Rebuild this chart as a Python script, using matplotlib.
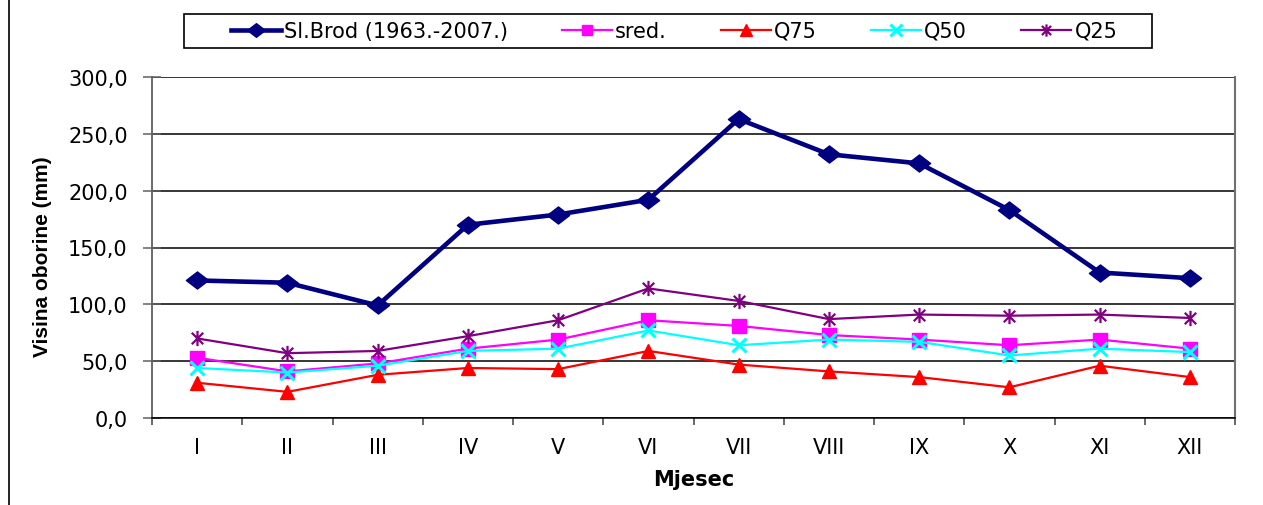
import numpy as np
import matplotlib
matplotlib.use("Agg")
import matplotlib.pyplot as plt
from matplotlib.path import Path
from matplotlib.patches import Rectangle
from matplotlib.lines import Line2D

months = ["I", "II", "III", "IV", "V", "VI", "VII", "VIII", "IX", "X", "XI", "XII"]
sl_brod = [121, 119, 99, 170, 179, 192, 263, 232, 224, 183, 128, 123]
sred = [53, 41, 48, 61, 69, 86, 81, 73, 69, 64, 69, 61]
q75 = [31, 23, 38, 44, 43, 59, 47, 41, 36, 27, 46, 36]
q50 = [44, 40, 46, 59, 61, 77, 64, 69, 67, 55, 61, 58]
q25 = [70, 57, 59, 72, 86, 114, 103, 87, 91, 90, 91, 88]
series_names = ["Sl.Brod (1963.-2007.)", "sred.", "Q75", "Q50", "Q25"]
y_ticks = [0, 50, 100, 150, 200, 250, 300]
y_tick_labels = ["0,0", "50,0", "100,0", "150,0", "200,0", "250,0", "300,0"]

W, H = 1263, 506
fig = plt.figure(figsize=(W / 100, H / 100), dpi=100)
fig.patch.set_facecolor("white")
ax = fig.add_axes([152 / W, 1 - 419 / H, (1235 - 152) / W, (419 - 78) / H])

x = np.arange(1, len(months) + 1)

diamond = Path([(-1.3, 0), (0, 1), (1.3, 0), (0, -1), (-1.3, 0)],
               [Path.MOVETO, Path.LINETO, Path.LINETO, Path.LINETO, Path.CLOSEPOLY])
star = Path([(0, -1), (0, 1), (-0.75, -0.75), (0.75, 0.75), (-0.75, 0.75), (0.75, -0.75)],
            [Path.MOVETO, Path.LINETO, Path.MOVETO, Path.LINETO, Path.MOVETO, Path.LINETO])

h1, = ax.plot(x, sl_brod, color="#000080", lw=3.3, marker=diamond, markersize=16,
              markerfacecolor="#000080", markeredgecolor="#000080", zorder=6)
h2, = ax.plot(x, sred, color="#FF00FF", lw=1.6, marker="s", markersize=9.5,
              markerfacecolor="#FF00FF", markeredgecolor="#FF00FF", zorder=4)
h3, = ax.plot(x, q75, color="#FF0000", lw=1.6, marker="^", markersize=10,
              markerfacecolor="#FF0000", markeredgecolor="#FF0000", zorder=4)
h4, = ax.plot(x, q50, color="#00FFFF", lw=1.6, marker="x", markersize=10,
              markeredgewidth=2.2, markeredgecolor="#00FFFF", zorder=5)
h5, = ax.plot(x, q25, color="#800080", lw=1.6, marker=star, markersize=11,
              markeredgewidth=1.6, markeredgecolor="#800080", markerfacecolor="none", zorder=4)

ax.set_xlim(0.5, 12.5)
ax.set_ylim(0, 300)
ax.set_yticks(y_ticks)
ax.set_yticklabels(y_tick_labels, family="DejaVu Sans", fontsize=15)
ax.yaxis.grid(True, color="black", lw=1.1)
ax.set_axisbelow(True)
ax.tick_params(axis="y", direction="inout", length=13, width=1.1, color="#606060", pad=11)

ax.set_xticks(np.arange(0.5, 12.6, 1))
ax.set_xticklabels([])
ax.tick_params(axis="x", which="major", direction="out", length=5, width=1.1, color="#404040")
ax.set_xticks(x, minor=True)
ax.set_xticklabels(months, minor=True, family="DejaVu Sans", fontsize=15)
ax.tick_params(axis="x", which="minor", length=0, pad=14)

ax.spines["top"].set_visible(False)
ax.spines["left"].set_color("#606060")
ax.spines["left"].set_linewidth(1.3)
ax.spines["right"].set_color("#707070")
ax.spines["right"].set_linewidth(1.5)
ax.spines["bottom"].set_color("black")
ax.spines["bottom"].set_linewidth(1.1)

ax.set_xlabel("Mjesec", family="DejaVu Sans", fontweight="bold", fontsize=15, labelpad=8)
ax.set_ylabel("Visina oborine (mm)", family="Liberation Sans", fontweight="bold", fontsize=15)
ax.yaxis.set_label_coords((52 - 152) / (1235 - 152), (419 - 257) / (419 - 78))

# legend box
fig.patches.append(Rectangle((184 / W, 1 - 49 / H), (1152 - 184) / W, 34 / H,
                             transform=fig.transFigure, facecolor="white",
                             edgecolor="black", lw=1.2, zorder=1))
leg = fig.legend([h1, h2, h3, h4, h5], series_names, loc="center",
                 bbox_to_anchor=(674 / W, 1 - 32 / H), ncol=5, frameon=False,
                 prop={"family": "DejaVu Sans", "size": 15}, handlelength=2.4,
                 handletextpad=0.15, columnspacing=2.6, borderpad=0)
for lh in leg.legend_handles:
    lh.set_markersize(lh.get_markersize() * 0.8)

# page border line at left
fig.add_artist(Line2D([8.5 / W, 8.5 / W], [0, 1], transform=fig.transFigure, color="black", lw=1.2))

fig.savefig("out.png", dpi=100)
